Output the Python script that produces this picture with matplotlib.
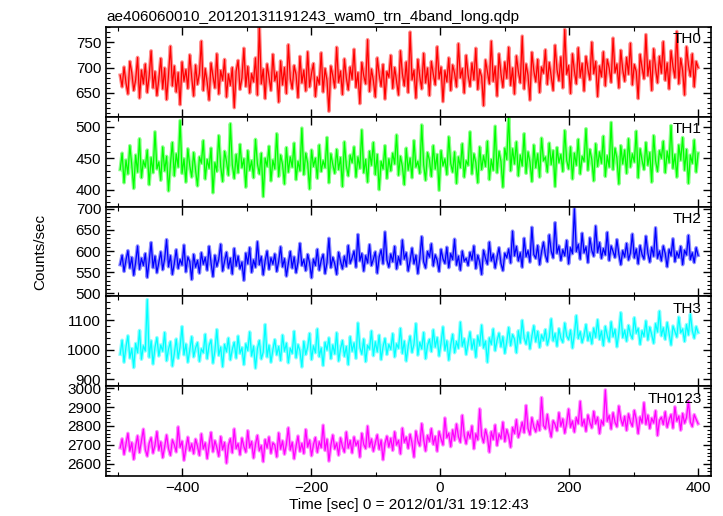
import numpy as np
import matplotlib
matplotlib.use("Agg")
from matplotlib import pyplot as plt
from matplotlib.ticker import MultipleLocator

plt.rcParams['font.family'] = ['Liberation Sans', 'DejaVu Sans']

title = "ae406060010_20120131191243_wam0_trn_4band_long.qdp"
xlabel = "Time [sec] 0 = 2012/01/31 19:12:43"
ylabel = "Counts/sec"
bands = ["TH0", "TH1", "TH2", "TH3", "TH0123"]
colors = ["#ff0000", "#00ff00", "#0000ff", "#00ffff", "#ff00ff"]
t_start, t_end = -496, 400

th0 = [685, 662, 701, 670, 648, 712, 690, 655, 676, 720, 640, 695, 668, 707, 651, 684, 733, 660, 692, 645,
       678, 718, 658, 699, 637, 686, 742, 664, 703, 652, 690, 627, 711, 673, 696, 659, 725, 681, 644, 705,
       667, 689, 752, 655, 698, 671, 636, 709, 683, 660, 727, 648, 694, 675, 716, 642, 687, 665, 700, 621,
       693, 714, 657, 680, 738, 663, 702, 650, 688, 672, 719, 646, 781, 668, 697, 639, 707, 681, 655, 726,
       674, 691, 632, 713, 666, 700, 649, 745, 679, 658, 704, 686, 641, 722, 670, 695, 654, 731, 662, 689,
       708, 643, 681, 667, 729, 652, 698, 675, 614, 703, 684, 660, 740, 671, 693, 647, 717, 680, 656, 701,
       677, 736, 661, 690, 629, 710, 684, 668, 755, 653, 697, 674, 642, 719, 686, 663, 706, 638, 692, 681,
       724, 659, 700, 673, 646, 733, 688, 664, 711, 651, 770, 676, 695, 640, 716, 682, 658, 728, 670, 699,
       645, 712, 687, 666, 741, 678, 701, 633, 694, 672, 719, 655, 705, 689, 662, 747, 680, 698, 650, 724,
       686, 663, 709, 676, 738, 657, 696, 682, 625, 715, 691, 668, 752, 673, 702, 644, 727, 688, 661, 711,
       679, 740, 665, 699, 648, 723, 692, 670, 762, 658, 707, 685, 636, 730, 694, 672, 716, 651, 701, 689,
       735, 667, 710, 683, 655, 744, 696, 674, 721, 660, 775, 687, 704, 649, 727, 693, 668, 739, 681, 708,
       654, 722, 697, 676, 750, 688, 712, 643, 703, 682, 731, 664, 716, 699, 671, 758, 690, 707, 660, 734,
       696, 673, 720, 687, 748, 666, 706, 692, 639, 726, 700, 678, 765, 684, 713, 655, 737, 698, 670, 722,
       689, 751, 675, 709, 658, 733, 702, 680, 771, 668, 718, 694, 646, 741, 705, 683, 727, 662, 712, 700]
th1 = [432, 458, 411, 447, 425, 470, 439, 402, 455, 428, 481, 419, 446, 436, 463, 408, 451, 427, 492, 433,
       444, 415, 468, 430, 453, 398, 441, 475, 422, 457, 436, 510, 426, 449, 412, 465, 438, 420, 459, 431,
       406, 452, 442, 478, 417, 448, 434, 466, 395, 443, 429, 486, 437, 413, 461, 445, 423, 505, 440, 418,
       456, 427, 472, 435, 449, 404, 462, 431, 446, 419, 480, 441, 425, 458, 389, 450, 437, 469, 414, 447,
       433, 489, 421, 455, 440, 409, 467, 428, 452, 436, 474, 416, 445, 430, 498, 424, 458, 442, 401, 463,
       437, 450, 418, 471, 429, 446, 435, 483, 411, 457, 440, 426, 464, 432, 451, 405, 476, 438, 422, 455,
       443, 468, 420, 452, 434, 495, 427, 448, 412, 461, 439, 475, 424, 456, 400, 445, 433, 470, 418, 449,
       430, 458, 441, 487, 423, 453, 437, 408, 466, 431, 450, 419, 478, 436, 445, 426, 503, 440, 415, 459,
       447, 421, 470, 433, 456, 399, 462, 438, 449, 424, 484, 442, 428, 460, 410, 452, 435, 473, 420, 446,
       439, 492, 425, 457, 443, 411, 468, 432, 454, 437, 477, 416, 448, 431, 501, 427, 461, 445, 404, 466,
       448, 518, 430, 465, 441, 476, 422, 455, 438, 489, 426, 460, 444, 413, 471, 435, 457, 420, 482, 446,
       452, 428, 474, 440, 462, 405, 467, 443, 456, 429, 494, 447, 433, 468, 417, 458, 439, 480, 425, 453,
       445, 497, 431, 464, 448, 414, 473, 437, 460, 442, 485, 421, 454, 436, 507, 432, 466, 450, 409, 470,
       441, 463, 426, 481, 436, 457, 444, 493, 419, 465, 447, 432, 475, 439, 459, 412, 486, 446, 429, 462,
       450, 477, 427, 461, 443, 502, 434, 456, 420, 471, 447, 483, 431, 464, 410, 455, 442, 479, 428, 458]
th2 = [568, 590, 552, 579, 601, 560, 585, 543, 574, 612, 557, 583, 566, 594, 538, 577, 620, 561, 588, 549,
       573, 598, 556, 582, 627, 563, 589, 545, 571, 603, 559, 580, 567, 614, 551, 586, 575, 533, 592, 562,
       578, 548, 596, 569, 585, 555, 611, 572, 540, 590, 564, 581, 616, 553, 576, 597, 560, 583, 546, 606,
       565, 588, 558, 574, 531, 595, 570, 608, 550, 579, 562, 622, 568, 587, 544, 577, 600, 557, 584, 569,
       593, 552, 576, 610, 563, 582, 541, 571, 599, 560, 586, 549, 574, 618, 566, 580, 554, 592, 572, 537,
       581, 566, 604, 555, 578, 592, 547, 573, 630, 561, 585, 570, 545, 597, 576, 558, 588, 564, 613, 571,
       584, 600, 562, 639, 577, 594, 553, 589, 572, 615, 566, 581, 598, 548, 586, 603, 570, 645, 579, 562,
       593, 575, 611, 558, 587, 569, 626, 581, 596, 553, 578, 607, 570, 590, 547, 583, 634, 575, 560, 599,
       586, 617, 565, 591, 578, 552, 604, 582, 571, 609, 561, 594, 580, 628, 567, 588, 555, 600, 576, 583,
       566, 597, 579, 612, 559, 590, 574, 545, 602, 583, 569, 621, 577, 593, 560, 586, 608, 571, 554, 595,
       584, 605, 572, 647, 589, 611, 577, 596, 562, 630, 587, 601, 574, 656, 592, 583, 613, 568, 598, 621,
       590, 575, 638, 600, 584, 667, 595, 612, 578, 603, 589, 625, 570, 608, 594, 700, 599, 616, 581, 642,
       596, 610, 573, 631, 602, 588, 659, 597, 620, 583, 606, 591, 644, 578, 612, 599, 585, 627, 593, 568,
       601, 586, 618, 579, 596, 640, 584, 605, 570, 613, 592, 581, 635, 596, 574, 609, 588, 655, 583, 600,
       577, 612, 594, 563, 604, 589, 629, 575, 598, 585, 611, 568, 602, 591, 637, 580, 596, 573, 608, 590]
th3 = [985, 1032, 958, 1010, 1047, 972, 1004, 940, 1021, 990, 1065, 968, 1013, 996, 1169, 975, 1030, 952, 1008, 1041,
       979, 1016, 995, 1058, 963, 1002, 1027, 945, 987, 1036, 971, 1011, 1078, 983, 1019, 958, 999, 1044, 976, 1006,
       1024, 961, 1003, 990, 1052, 970, 1014, 1033, 955, 997, 1068, 981, 1009, 943, 1018, 993, 1039, 966, 1001, 1025,
       972, 1046, 988, 1007, 950, 1020, 997, 1060, 979, 1012, 938, 1004, 1031, 969, 992, 1085, 976, 1015, 958, 1000,
       1034, 983, 1011, 964, 1049, 995, 1022, 956, 1005, 988, 1062, 973, 1017, 996, 942, 1028, 984, 1009, 1055, 967,
       1013, 990, 1070, 977, 1006, 947, 1025, 999, 1040, 970, 1016, 986, 1057, 962, 1003, 1031, 978, 1011, 950, 1044,
       995, 1023, 971, 1090, 1008, 985, 1036, 960, 1015, 1002, 1063, 980, 1027, 993, 1049, 967, 1010, 1038, 984, 1018,
       1001, 1054, 976, 1020, 1005, 1072, 988, 1029, 962, 1012, 1046, 991, 1019, 1088, 982, 1025, 1003, 1058, 970, 1014,
       1035, 994, 1067, 1009, 1041, 979, 1023, 1077, 998, 1030, 965, 1016, 1052, 990, 1028, 1005, 1093, 1012, 1037, 984,
       1021, 1060, 1002, 1034, 975, 1047, 1015, 1083, 1006, 1029, 958, 1040, 1018, 1070, 997, 1032, 1056, 1010, 1044, 988,
       1027, 1075, 1014, 1051, 1036, 990, 1064, 1023, 1099, 1040, 1019, 1058, 1003, 1046, 1081, 1027, 1062, 1008, 1050, 1032,
       1068, 1016, 1043, 1104, 1030, 1055, 1012, 1071, 1039, 1025, 1090, 1047, 1034, 1066, 1006, 1053, 1115, 1038, 1061, 1024,
       1049, 1085, 1031, 1057, 1020, 1073, 1042, 1101, 1035, 1063, 1014, 1079, 1048, 1027, 1094, 1044, 1069, 1010, 1058, 1125,
       1041, 1066, 1029, 1082, 1052, 1037, 1108, 1056, 1072, 1018, 1064, 1045, 1097, 1033, 1076, 1051, 1022, 1088, 1060, 1130,
       1047, 1074, 1035, 1092, 1055, 1016, 1080, 1062, 1043, 1110, 1057, 1070, 1028, 1085, 1050, 1120, 1065, 1039, 1078, 1058]
th0123 = [2685, 2732, 2650, 2704, 2761, 2668, 2712, 2624, 2695, 2748, 2660, 2720, 2783, 2676, 2641, 2709, 2738, 2657, 2699, 2770,
          2672, 2716, 2633, 2690, 2752, 2681, 2645, 2727, 2701, 2663, 2795, 2688, 2719, 2619, 2683, 2741, 2670, 2706, 2654, 2730,
          2693, 2645, 2758, 2679, 2711, 2628, 2700, 2766, 2664, 2722, 2687, 2640, 2744, 2675, 2713, 2604, 2697, 2733, 2659, 2784,
          2681, 2707, 2648, 2736, 2692, 2662, 2775, 2686, 2718, 2631, 2703, 2750, 2669, 2696, 2612, 2728, 2684, 2742, 2656, 2711,
          2699, 2637, 2763, 2678, 2721, 2651, 2705, 2790, 2673, 2714, 2627, 2694, 2747, 2666, 2708, 2655, 2781, 2689, 2725, 2643,
          2702, 2739, 2661, 2717, 2686, 2804, 2671, 2730, 2615, 2698, 2752, 2679, 2710, 2646, 2737, 2692, 2662, 2768, 2684, 2723,
          2658, 2742, 2697, 2720, 2636, 2761, 2703, 2681, 2799, 2690, 2731, 2667, 2712, 2753, 2677, 2726, 2622, 2708, 2746, 2689,
          2735, 2671, 2769, 2700, 2724, 2653, 2788, 2714, 2741, 2682, 2756, 2709, 2636, 2773, 2722, 2695, 2812, 2730, 2668, 2750,
          2719, 2786, 2703, 2745, 2667, 2771, 2732, 2700, 2842, 2738, 2762, 2691, 2779, 2725, 2810, 2744, 2714, 2856, 2752, 2706,
          2768, 2736, 2800, 2680, 2759, 2727, 2890, 2749, 2712, 2782, 2741, 2662, 2770, 2729, 2805, 2697, 2758, 2733, 2820, 2718,
          2781, 2745, 2688, 2792, 2760, 2833, 2740, 2775, 2820, 2765, 2908, 2788, 2754, 2844, 2796, 2769, 2826, 2777, 2950, 2803,
          2785, 2861, 2791, 2742, 2828, 2808, 2775, 2870, 2799, 2837, 2762, 2815, 2889, 2793, 2826, 2768, 2845, 2812, 2930, 2801,
          2834, 2772, 2858, 2819, 2790, 2877, 2812, 2846, 2760, 2830, 2805, 2990, 2825, 2856, 2784, 2870, 2820, 2796, 2905, 2838,
          2803, 2851, 2777, 2864, 2822, 2798, 2882, 2835, 2760, 2848, 2816, 2923, 2809, 2857, 2787, 2841, 2816, 2880, 2750, 2829,
          2846, 2808, 2875, 2793, 2833, 2860, 2789, 2901, 2826, 2852, 2778, 2866, 2815, 2845, 2930, 2821, 2797, 2860, 2835, 2812]
series = [th0, th1, th2, th3, th0123]

ylims = [(603, 780), (373, 516), (493, 705), (877, 1180), (2536, 3010)]
ymajor = [50, 50, 50, 100, 100]
yminor = [10, 10, 10, 20, 20]

fig = plt.figure(figsize=(7.23, 5.16), dpi=100)
left, right = 106 / 723, 711 / 723
top, bottom = 1 - 27 / 516, 1 - 476 / 516
h = (top - bottom) / 5

axes = []
for i in range(5):
    ax = fig.add_axes([left, top - (i + 1) * h, right - left, h], sharex=axes[0] if axes else None)
    axes.append(ax)
    y = np.array(series[i])
    t = np.linspace(t_start, t_end, len(y))
    # wide pale line stands in for the error bars, thin line on top
    ax.plot(t, y, color=colors[i], lw=2.6, alpha=0.45)
    ax.plot(t, y, color=colors[i], lw=0.9)
    ax.set_ylim(*ylims[i])
    ax.set_xlim(-518, 420)
    ax.yaxis.set_major_locator(MultipleLocator(ymajor[i]))
    ax.yaxis.set_minor_locator(MultipleLocator(yminor[i]))
    ax.xaxis.set_major_locator(MultipleLocator(200))
    ax.xaxis.set_minor_locator(MultipleLocator(100))
    ax.tick_params(which='both', direction='in', top=True, right=True, labelsize=11)
    ax.tick_params(which='major', length=6, width=1)
    ax.tick_params(which='minor', length=3, width=0.8)
    for s in ax.spines.values():
        s.set_linewidth(1.2)
    ax.text(0.985, 0.94, bands[i], transform=ax.transAxes, ha='right', va='top', fontsize=11)
    if i < 4:
        ax.tick_params(labelbottom=False)

axes[0].set_title(title, loc='left', fontsize=11, pad=4)
axes[-1].set_xlabel(xlabel, fontsize=11, labelpad=2)
fig.text(0.055, (top + bottom) / 2, ylabel, rotation=90, ha='center', va='center', fontsize=11)

plt.savefig("out.png", dpi=100)
